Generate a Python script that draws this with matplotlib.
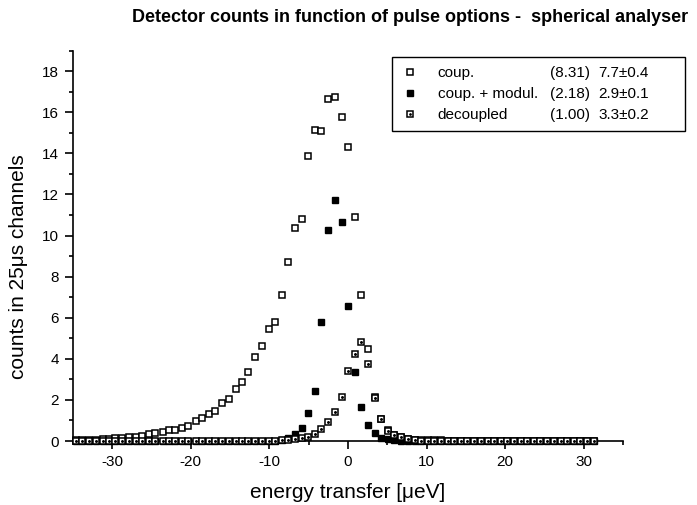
import matplotlib.pyplot as plt
from matplotlib.ticker import MultipleLocator
from matplotlib.legend_handler import HandlerTuple

plt.rcParams['font.family'] = ['Liberation Sans', 'DejaVu Sans']
plt.rcParams['axes.unicode_minus'] = False

# energy transfer of each channel [ueV]
energy = [-34.6, -33.8, -32.9, -32.1, -31.2, -30.4, -29.6, -28.7, -27.9, -27.0,
          -26.2, -25.3, -24.5, -23.6, -22.8, -22.0, -21.1, -20.3, -19.4, -18.6,
          -17.7, -16.9, -16.0, -15.2, -14.3, -13.5, -12.7, -11.8, -11.0, -10.1,
          -9.3, -8.4, -7.6, -6.7, -5.9, -5.1, -4.2, -3.4, -2.5, -1.7,
          -0.8, 0.0, 0.9, 1.7, 2.6, 3.4, 4.2, 5.1, 5.9, 6.8,
          7.6, 8.5, 9.3, 10.2, 11.0, 11.9, 12.7, 13.5, 14.4, 15.2,
          16.1, 16.9, 17.8, 18.6, 19.5, 20.3, 21.1, 22.0, 22.8, 23.7,
          24.5, 25.4, 26.2, 27.1, 27.9, 28.8, 29.6, 30.4, 31.3]

coup = [0.03, 0.04, 0.05, 0.06, 0.08, 0.10, 0.13, 0.15, 0.21, 0.21,
        0.26, 0.34, 0.40, 0.45, 0.52, 0.55, 0.62, 0.75, 0.96, 1.13,
        1.30, 1.48, 1.83, 2.03, 2.55, 2.87, 3.34, 4.07, 4.64, 5.45,
        5.79, 7.09, 8.70, 10.37, 10.79, 13.88, 15.12, 15.10, 16.64, 16.74,
        15.77, 14.32, 10.90, 7.12, 4.48, 2.16, 1.06, 0.52, 0.31, 0.20,
        0.10, 0.06, 0.04, 0.03, 0.03, 0.03, 0.02, 0.02, 0.02, 0.02,
        0.02, 0.02, 0.02, 0.02, 0.02, 0.02, 0.02, 0.02, 0.02, 0.02,
        0.02, 0.02, 0.02, 0.02, 0.02, 0.02, 0.02, 0.02, 0.02]

coup_modul = [0.01, 0.01, 0.01, 0.01, 0.01, 0.01, 0.01, 0.01, 0.01, 0.01,
              0.01, 0.01, 0.01, 0.01, 0.01, 0.01, 0.01, 0.01, 0.01, 0.01,
              0.01, 0.01, 0.01, 0.01, 0.01, 0.01, 0.01, 0.01, 0.01, 0.02,
              0.02, 0.05, 0.13, 0.32, 0.64, 1.36, 2.45, 5.77, 10.28, 11.74,
              10.67, 6.56, 3.37, 1.67, 0.78, 0.37, 0.14, 0.08, 0.03, 0.02,
              0.01, 0.01, 0.01, 0.01, 0.01, 0.01, 0.01, 0.01, 0.01, 0.01,
              0.01, 0.01, 0.01, 0.01, 0.01, 0.01, 0.01, 0.01, 0.01, 0.01,
              0.01, 0.01, 0.01, 0.01, 0.01, 0.01, 0.01, 0.01, 0.01]

decoupled = [0.0, 0.0, 0.0, 0.0, 0.0, 0.0, 0.0, 0.0, 0.0, 0.0,
             0.0, 0.0, 0.0, 0.0, 0.0, 0.0, 0.0, 0.0, 0.0, 0.0,
             0.0, 0.0, 0.0, 0.0, 0.0, 0.0, 0.0, 0.0, 0.0, 0.0,
             0.01, 0.03, 0.05, 0.08, 0.13, 0.21, 0.33, 0.58, 0.91, 1.43,
             2.16, 3.42, 4.23, 4.82, 3.75, 2.11, 1.06, 0.50, 0.29, 0.18,
             0.08, 0.04, 0.02, 0.01, 0.0, 0.0, 0.0, 0.0, 0.0, 0.0,
             0.0, 0.0, 0.0, 0.0, 0.0, 0.0, 0.0, 0.0, 0.0, 0.0,
             0.0, 0.0, 0.0, 0.0, 0.0, 0.0, 0.0, 0.0, 0.0]

legend_names = ['coup.', 'coup. + modul.', 'decoupled']
legend_ratio = ['(8.31)', '(2.18)', '(1.00)']
legend_fit = ['7.7\u00b10.4', '2.9\u00b10.1', '3.3\u00b10.2']

fig = plt.figure(figsize=(6.97, 5.05), dpi=100)
ax = fig.add_axes([0.1047, 0.1267, 0.789, 0.773])

h1, = ax.plot(energy, coup, 's', ms=5, mfc='white', mec='black', mew=1.1,
              ls='none', clip_on=False, zorder=3)
h2, = ax.plot(energy, coup_modul, 's', ms=4.6, mfc='black', mec='black',
              ls='none', clip_on=False, zorder=4)
h3, = ax.plot(energy, decoupled, 's', ms=4.4, mfc='white', mec='black', mew=1.1,
              ls='none', clip_on=False, zorder=5)
h3b, = ax.plot(energy, decoupled, '.', ms=2.2, color='black',
               ls='none', clip_on=False, zorder=6)

ax.set_xlim(-35, 35)
ax.set_ylim(0, 19)
ax.xaxis.set_major_locator(MultipleLocator(10))
ax.xaxis.set_minor_locator(MultipleLocator(5))
ax.yaxis.set_major_locator(MultipleLocator(2))
ax.yaxis.set_minor_locator(MultipleLocator(1))
ax.tick_params(which='major', direction='out', length=6, width=1.2, labelsize=11, pad=4)
ax.tick_params(which='minor', direction='out', length=3, width=1.2)
for side in ['top', 'right']:
    ax.spines[side].set_visible(False)
for side in ['left', 'bottom']:
    ax.spines[side].set_linewidth(1.2)

ax.set_xlabel('energy transfer [\u03bceV]', fontsize=15, labelpad=10)
ax.set_ylabel('counts in 25\u03bcs channels', fontsize=15)
ax.yaxis.set_label_coords(-0.082, 0.446)

fig.text(0.588, 0.965, 'Detector counts in function of pulse options -  spherical analyser',
         ha='center', va='center', fontsize=13, fontweight='bold')

leg = ax.legend([h1, h2, (h3, h3b)], legend_names,
                handler_map={tuple: HandlerTuple(ndivide=1)},
                loc='upper left', bbox_to_anchor=(392 / 697, 1 - 57 / 505, 293 / 697, 0.0),
                bbox_transform=fig.transFigure, mode='expand',
                fontsize=11, frameon=True, fancybox=False, edgecolor='black',
                framealpha=1, borderpad=0.6, labelspacing=0.45, markerscale=0.85,
                handlelength=1.2, handletextpad=1.2, borderaxespad=0)
leg.get_frame().set_linewidth(1.0)

# numbers columns aligned with the legend rows
fig.canvas.draw()
inv = fig.transFigure.inverted()
for txt, ratio, fit in zip(leg.get_texts(), legend_ratio, legend_fit):
    bb = txt.get_window_extent()
    yc = inv.transform((0, (bb.y0 + bb.y1) / 2))[1]
    fig.text(590 / 697, yc, ratio, ha='right', va='center', fontsize=11)
    fig.text(598 / 697, yc, fit, ha='left', va='center', fontsize=11)

fig.savefig('out.png', dpi=100)
